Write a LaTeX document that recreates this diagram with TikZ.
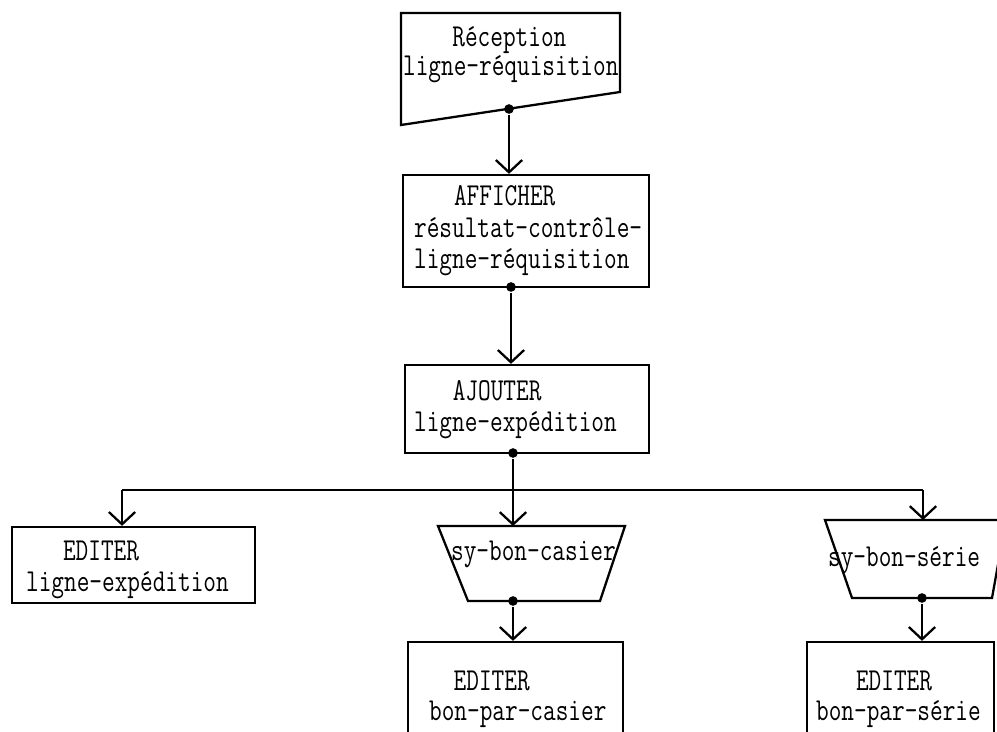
\documentclass[tikz,border=0pt]{standalone}
\usepackage{tikz}
\usepackage{graphicx}
\usetikzlibrary{arrows.meta}

\newcommand{\tl}[1]{\scalebox{1}[1.3]{#1}}

\begin{document}
\begin{tikzpicture}[x=0.02cm,y=-0.02cm,line width=1.3pt,
	box/.style={draw,rectangle,inner sep=0pt},
	txt/.style={font=\ttfamily\fontsize{14}{18}\selectfont,align=left,inner sep=0pt,anchor=base west},
	flow/.style={-{Straight Barb[length=7pt,width=15pt]}},
	dot/.style={circle,fill,inner sep=0pt,minimum size=5.5pt}]
		\useasboundingbox (0,0) rectangle (997,732);
		\clip (0,0) rectangle (997,732);
		% reception, slanted bottom
		\path (401,13) coordinate (rA)
		(620,13) coordinate (rB)
		(620,92) coordinate (rC)
		(401,125) coordinate (rD);
		\draw (rA) -- (rB) -- (rC) -- (rD) -- cycle;
		% boxes
		\node[box,minimum width=4.92cm,minimum height=2.24cm] (afficher) at (526,231) {};
		\node[box,minimum width=4.88cm,minimum height=1.76cm] (ajouter) at (527,409) {};
		\node[box,minimum width=4.86cm,minimum height=1.52cm] (editexp) at (133.5,565) {};
		\node[box,minimum width=4.3cm,minimum height=2.6cm] (editcas) at (515.5,707) {};
		\node[box,minimum width=3.74cm,minimum height=2.6cm] (editser) at (900.5,707) {};
		% trapezoids
		\path (438,526) coordinate (cA)
		(625,526) coordinate (cB)
		(600,601) coordinate (cC)
		(468,601) coordinate (cD);
		\draw (cA) -- (cB) -- (cC) -- (cD) -- cycle;
		\path (825,520) coordinate (sA)
		(1006,520) coordinate (sB)
		(992,598) coordinate (sC)
		(852,598) coordinate (sD);
		\draw (sA) -- (sB) -- (sC) -- (sD) -- cycle;
		% texts (anchored at the last line)
		\node[txt] (rec-t) at (402,76) {\hspace*{28pt}\tl{Réception}\\[-1pt]\tl{ligne-réquisition}};
		\node[txt] (aff-t) at (413,269) {\hspace*{22.7pt}\tl{AFFICHER}\\\tl{résultat-contrôle-}\\\tl{ligne-réquisition}};
		\node[txt] (aj-t) at (413,432) {\hspace*{22pt}\tl{AJOUTER}\\\tl{ligne-expédition}};
		\node[txt] (exp-t) at (25,592) {\hspace*{21pt}\tl{EDITER}\\\tl{ligne-expédition}};
		\node[txt] (cas-t) at (450,561) {\tl{sy-bon-casier}};
		\node[txt] (ser-t) at (827,567) {\tl{sy-bon-série}};
		\node[txt] (edc-t) at (428,720) {\hspace*{14pt}\tl{EDITER}\\[-1pt]\tl{bon-par-casier}};
		\node[txt] (eds-t) at (815,720) {\hspace*{22.7pt}\tl{EDITER}\\[-1pt]\tl{bon-par-série}};
		% dots
		\node[dot] (recdot) at (509,109) {};
		\node[dot] (affdot) at (511,287) {};
		\node[dot] (ajdot) at (513,453) {};
		\node[dot] (casdot) at (513,601) {};
		\node[dot] (serdot) at (922,598) {};
		% arrows
		\coordinate (bl) at (122,490);
		\coordinate (br) at (923,490);
		\draw (bl) -- (br);
		\draw[flow] (recdot) -- (recdot |- afficher.north);
		\draw[flow] (affdot) -- (affdot |- ajouter.north);
		\draw[flow] (ajdot) -- (ajdot |- cA);
		\draw[flow] (bl) -- (bl |- editexp.north);
		\draw[flow] (br) -- (br |- sA);
		\draw[flow] (casdot) -- (casdot |- editcas.north);
		\draw[flow] (serdot) -- (serdot |- editser.north);
	\end{tikzpicture}
\end{document}
